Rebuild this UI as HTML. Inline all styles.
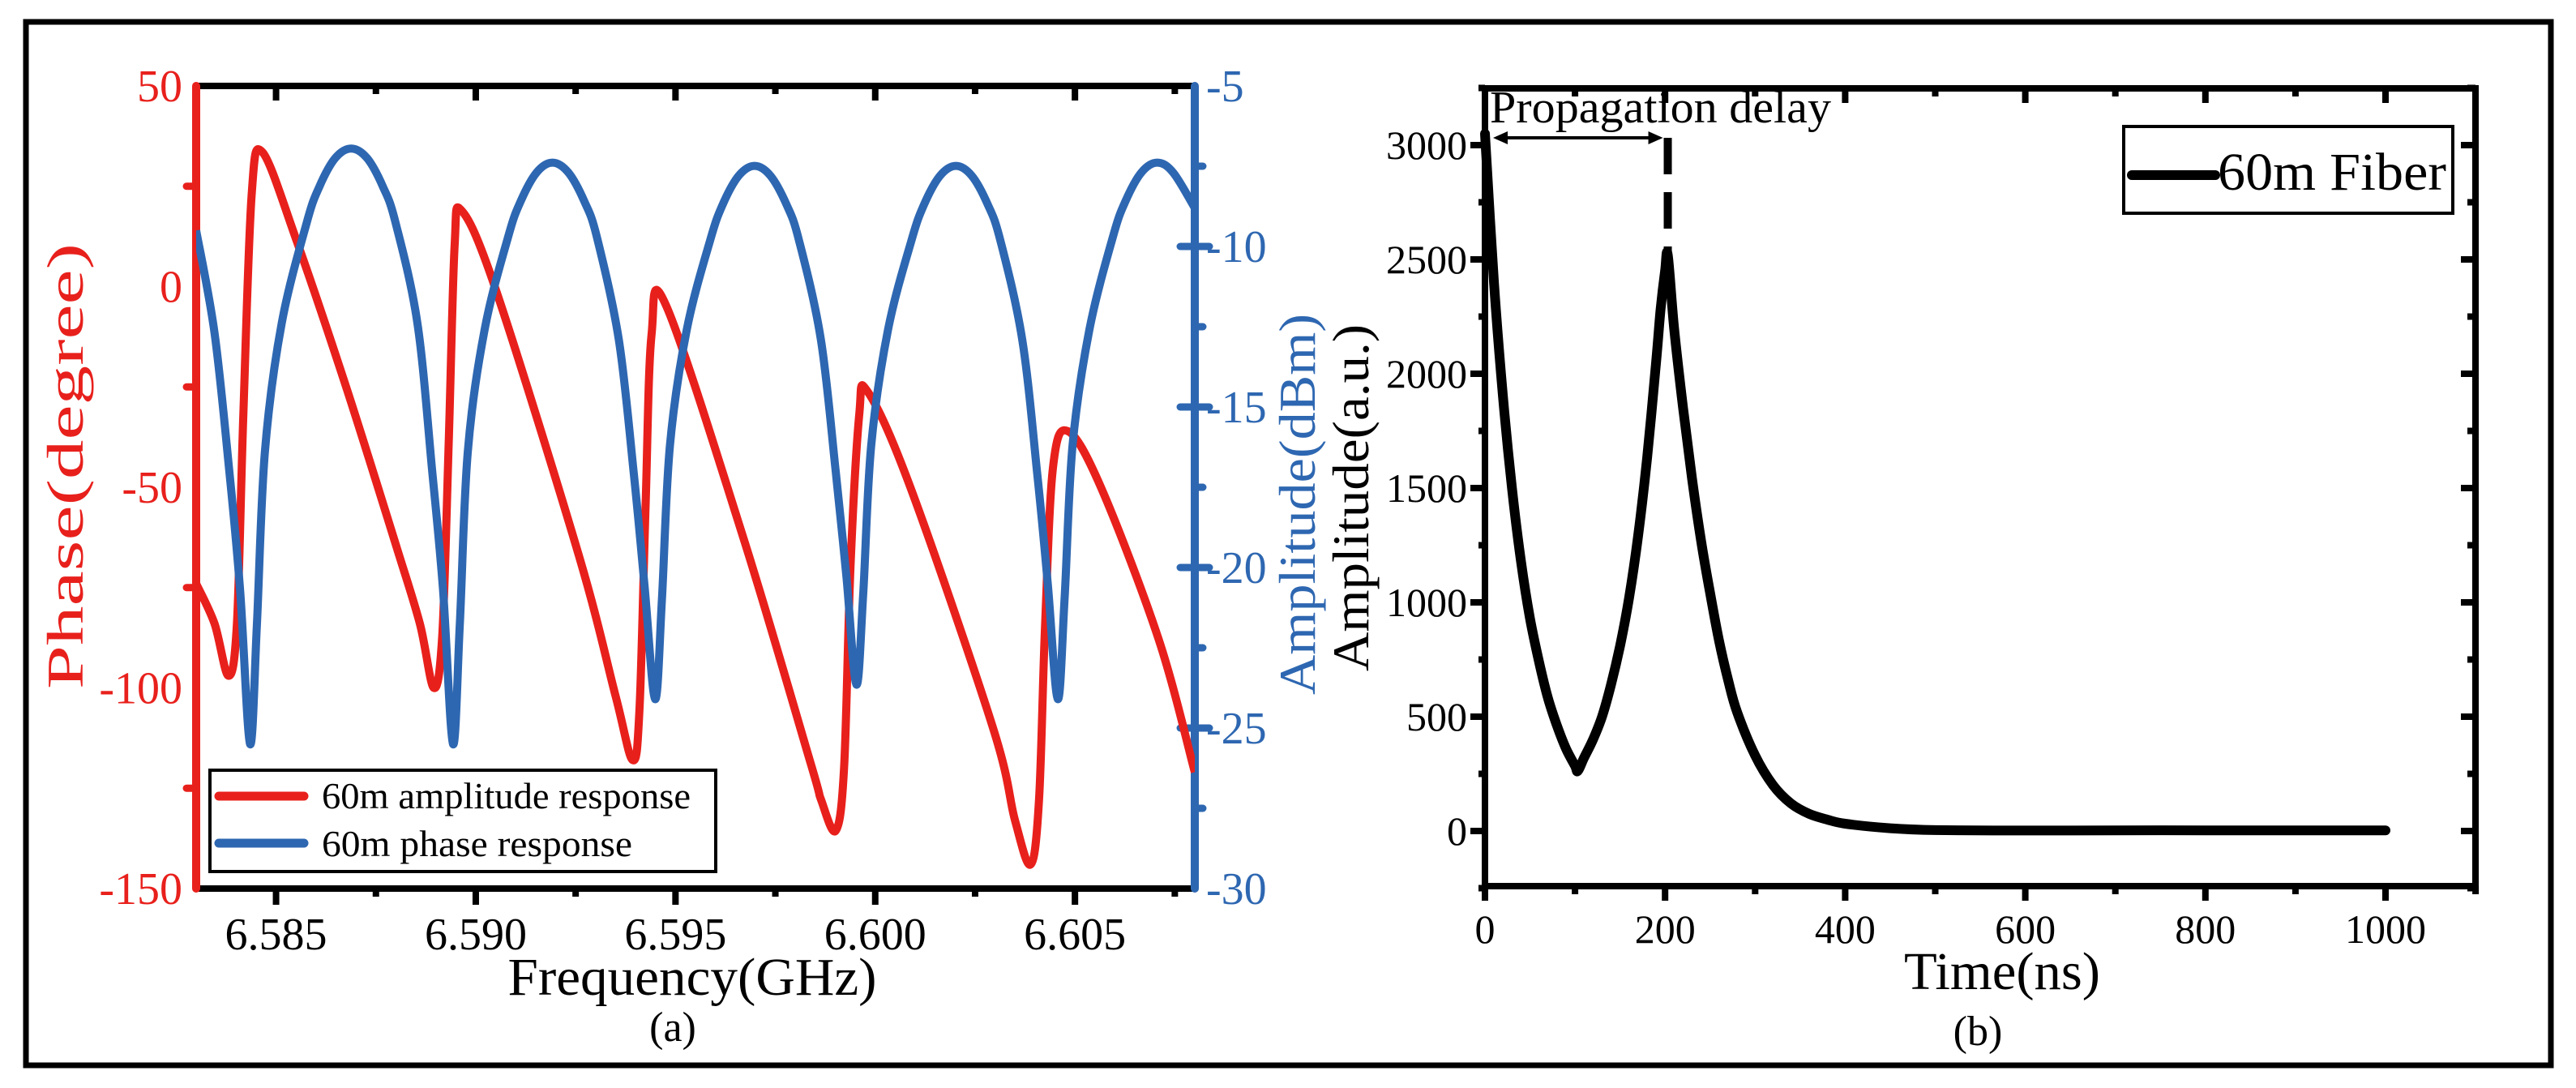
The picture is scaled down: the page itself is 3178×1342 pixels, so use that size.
<!DOCTYPE html>
<html><head><meta charset="utf-8"><style>
html,body{margin:0;padding:0;background:#fff}
svg{display:block;font-family:"Liberation Serif",serif}
</style></head><body>
<svg id="fig" width="3178" height="1342" viewBox="0 0 3178 1342" xmlns="http://www.w3.org/2000/svg">
<rect x="32" y="27" width="3115" height="1287" fill="none" stroke="#000" stroke-width="7"/>
<g id="pa"></g>
<g id="pb"></g>
</svg>
<script>
// ---------- Panel (a) data ----------
const freqTicks = [6.585, 6.590, 6.595, 6.600, 6.605];
const freqTickLabels = ["6.585", "6.590", "6.595", "6.600", "6.605"];
const phaseTicks = [50, 0, -50, -100, -150];
const ampTicks = [-5, -10, -15, -20, -25, -30];
const redFreq = [6.583,6.58346,6.58381,6.58402,6.58418,6.58439,6.58466,6.58553,6.58677,6.58802,6.5886,6.58895,6.58916,6.58932,6.58947,6.58964,6.59051,6.59258,6.5935,6.59393,6.5941,6.59425,6.5944,6.59476,6.59673,6.59839,6.59865,6.59901,6.59922,6.59938,6.5996,6.5998,6.60088,6.60295,6.6035,6.60389,6.6041,6.60425,6.60445,6.60482,6.60565,6.6071,6.608];
const redPhase = [-74,-84,-97,-84,-32,23,33.5,11,-25.5,-65,-84,-100,-87,-40,10,19,-1,-67,-102,-118,-105,-55,-12,-4.6,-63.6,-119,-128,-135.6,-120,-70,-32,-26,-50,-110,-133,-144,-128,-85,-45,-36,-50,-88,-121];
const blueFreq = [6.583,6.58346,6.58383,6.5841,6.58435,6.58452,6.58472,6.58514,6.58577,6.58608,6.58648,6.58688,6.58728,6.58768,6.58799,6.58854,6.58891,6.58918,6.58943,6.5896,6.5898,6.59022,6.59081,6.59112,6.59152,6.59192,6.59232,6.59272,6.59303,6.59358,6.59395,6.59422,6.59449,6.59466,6.59486,6.59528,6.59587,6.59618,6.59658,6.59698,6.59738,6.59778,6.59809,6.59864,6.59901,6.59928,6.59953,6.5997,6.5999,6.60032,6.60091,6.60122,6.60162,6.60202,6.60242,6.60282,6.60313,6.60368,6.60405,6.60432,6.60457,6.60474,6.60494,6.60536,6.60595,6.60626,6.60666,6.60706,6.60746,6.608];
const blueAmp = [-9.5,-12.7,-17.0,-20.7,-25.5,-21.8,-16.4,-12.4,-9.25,-8.15,-7.25,-6.95,-7.25,-8.15,-9.25,-12.4,-17.0,-20.7,-25.5,-21.8,-16.4,-12.6,-9.7,-8.6,-7.7,-7.39,-7.7,-8.6,-9.7,-12.9,-17.0,-20.5,-24.1,-21.0,-16.2,-12.6,-9.8,-8.7,-7.8,-7.49,-7.8,-8.7,-9.8,-12.9,-17.0,-20.3,-23.65,-20.8,-16.2,-12.6,-9.8,-8.7,-7.8,-7.49,-7.8,-8.7,-9.8,-12.9,-17.0,-20.5,-24.1,-21.0,-16.2,-12.6,-9.7,-8.6,-7.7,-7.39,-7.7,-8.8];
// ---------- Panel (b) data ----------
const timeTicks = [0,200,400,600,800,1000];
const countTicks = [0,500,1000,1500,2000,2500,3000];
const times = [0,10,20,30,40,50,60,70,80,90,100,103,110,120,130,140,150,160,170,180,190,195,200,203,210,220,230,240,250,260,270,280,300,320,340,360,380,400,450,500,600,700,800,900,1000];
const counts = [3050,2400,1900,1500,1180,930,740,580,460,360,285,262,320,400,500,640,810,1020,1290,1630,2050,2280,2450,2520,2200,1850,1540,1270,1040,830,660,520,330,200,120,75,50,32,12,4,2,3,3,3,3];
const delayTime = 203;

const NS="http://www.w3.org/2000/svg";
function mk(parent,tag,attrs,text){const e=document.createElementNS(NS,tag);for(const k in attrs)e.setAttribute(k,attrs[k]);if(text!==undefined)e.textContent=text;parent.appendChild(e);return e;}
function smoothPath(xs,ys){let d="M"+xs[0].toFixed(1)+","+ys[0].toFixed(1);for(let i=0;i<xs.length-1;i++){const x0=xs[Math.max(0,i-1)],y0=ys[Math.max(0,i-1)],x1=xs[i],y1=ys[i],x2=xs[i+1],y2=ys[i+1],x3=xs[Math.min(xs.length-1,i+2)],y3=ys[Math.min(xs.length-1,i+2)];d+=" C"+(x1+(x2-x0)/6).toFixed(1)+","+(y1+(y2-y0)/6).toFixed(1)+" "+(x2-(x3-x1)/6).toFixed(1)+","+(y2-(y3-y1)/6).toFixed(1)+" "+x2.toFixed(1)+","+y2.toFixed(1);}return d;}
const RED="#e8201c",BLUE="#2e67b1";

// ---- Panel a ----
const pa=document.getElementById('pa');
const aL=242,aR=1474,aT=106,aB=1096,fMin=6.583,fMax=6.608;
const fx=f=>aL+(f-fMin)/(fMax-fMin)*(aR-aL);
const py=p=>aT+(50-p)/200*(aB-aT);
const ay=a=>aT+(-5-a)/25*(aB-aT);
mk(pa,'clipPath',{id:'clipA'});
mk(document.getElementById('clipA'),'rect',{x:aL,y:aT-10,width:aR-aL,height:aB-aT+20});
let e;
e=mk(pa,'line',{x1:aL,y1:aT,x2:aR,y2:aT,stroke:'#000','stroke-width':8});


e=mk(pa,'line',{x1:aL,y1:aB,x2:aR,y2:aB,stroke:'#000','stroke-width':8});


for(let f=6.5825;f<=6.6081;f+=0.0025){const x=fx(f);if(x<aL+5||x>aR-5)continue;const major=Math.abs(Math.round(f*1000)/1000-f)<1e-6&&Math.round(f*1000)%5===0;
 e=mk(pa,'line',{x1:x,y1:aB,x2:x,y2:aB+(major?20:10),stroke:'#000','stroke-width':8});
 
 
 e=mk(pa,'line',{x1:x,y1:aT,x2:x,y2:aT+(major?18:10),stroke:'#000','stroke-width':8});
 
 }
freqTicks.forEach((f,i)=>{e=mk(pa,'text',{x:fx(f),y:1171,'font-size':56,'text-anchor':'middle',fill:'#000'},freqTickLabels[i]);
 
 });
e=mk(pa,'line',{x1:aL,y1:aT,x2:aL,y2:aB,stroke:RED,'stroke-width':10,'stroke-linecap':'round'});


for(let p=25;p>-150;p-=50){e=mk(pa,'line',{x1:aL,y1:py(p),x2:aL-12,y2:py(p),stroke:RED,'stroke-width':9,'stroke-linecap':'round'});
 
 }
phaseTicks.forEach(p=>{e=mk(pa,'text',{x:225,y:py(p)+19,'font-size':56,'text-anchor':'end',fill:RED},String(p));
 
 });
e=mk(pa,'line',{x1:aR,y1:aT,x2:aR,y2:aB,stroke:BLUE,'stroke-width':10,'stroke-linecap':'round'});


for(let a=-7.5;a>-30;a-=2.5){const major=Math.abs(a%5)<1e-6;e=mk(pa,'line',{x1:major?aR-18:aR,y1:ay(a),x2:major?aR+18:aR+10,y2:ay(a),stroke:BLUE,'stroke-width':9,'stroke-linecap':'round'});
 
 }
ampTicks.forEach(a=>{e=mk(pa,'text',{x:1488,y:ay(a)+19,'font-size':56,'text-anchor':'start',fill:BLUE},String(a));
 
 });
e=mk(pa,'path',{d:smoothPath(redFreq.map(fx),redPhase.map(py)),fill:'none',stroke:RED,'stroke-width':10,'stroke-linejoin':'round','clip-path':'url(#clipA)'});


e=mk(pa,'path',{d:smoothPath(blueFreq.map(fx),blueAmp.map(ay)),fill:'none',stroke:BLUE,'stroke-width':10,'stroke-linejoin':'round','clip-path':'url(#clipA)'});


const lg=mk(pa,'g',{});


mk(lg,'rect',{x:259,y:950,width:624,height:125,fill:'#fff',stroke:'#000','stroke-width':4});
e=mk(lg,'line',{x1:270,y1:982,x2:375,y2:982,stroke:RED,'stroke-width':11,'stroke-linecap':'round'});


e=mk(lg,'text',{x:397,y:997,'font-size':46,textLength:455,lengthAdjust:'spacingAndGlyphs'},'60m amplitude response');


e=mk(lg,'line',{x1:270,y1:1040,x2:375,y2:1040,stroke:BLUE,'stroke-width':11,'stroke-linecap':'round'});


e=mk(lg,'text',{x:397,y:1056,'font-size':46,textLength:383,lengthAdjust:'spacingAndGlyphs'},'60m phase response');


e=mk(pa,'text',{x:0,y:0,'font-size':64,fill:RED,'text-anchor':'middle',textLength:550,lengthAdjust:'spacingAndGlyphs',transform:'translate(102,575) rotate(-90)'},'Phase(degree)');


e=mk(pa,'text',{x:854,y:1227,'font-size':66,'text-anchor':'middle',textLength:455,lengthAdjust:'spacingAndGlyphs'},'Frequency(GHz)');


e=mk(pa,'text',{x:830,y:1284,'font-size':52,'text-anchor':'middle'},'(a)');


e=mk(pa,'text',{x:0,y:0,'font-size':64,fill:BLUE,'text-anchor':'middle',textLength:470,lengthAdjust:'spacingAndGlyphs',transform:'translate(1622,622) rotate(-90)'},'Amplitude(dBm)');



// ---- Panel b ----
const pb=document.getElementById('pb');
const bL=1832,bR=3054,bT=109,bB=1093;
const tx=t=>bL+t*(2943-bL)/1000;
const cy=c=>1025-c*(1025-179)/3000;
e=mk(pb,'rect',{x:bL,y:bT,width:bR-bL,height:bB-bT,fill:'none',stroke:'#000','stroke-width':8});


for(let t=0;t<=1100;t+=100){const major=t%200===0;const x=tx(t);
 e=mk(pb,'line',{x1:x,y1:bB,x2:x,y2:bB+(major?18:10),stroke:'#000','stroke-width':8});
 
 
 if(t>0&&t<1100){e=mk(pb,'line',{x1:x,y1:bT,x2:x,y2:bT+(major?18:10),stroke:'#000','stroke-width':8});
 
 }}
timeTicks.forEach(t=>{e=mk(pb,'text',{x:tx(t),y:1163,'font-size':50,'text-anchor':'middle'},String(t));
 
 });
for(let c=-250;c<=3250;c+=250){const major=c%500===0;const y=cy(c);
 e=mk(pb,'line',{x1:bL,y1:y,x2:bL-(major?18:8),y2:y,stroke:'#000','stroke-width':8});
 
 
 e=mk(pb,'line',{x1:bR,y1:y,x2:bR-(major?18:10),y2:y,stroke:'#000','stroke-width':8});
 
 }
countTicks.forEach(c=>{e=mk(pb,'text',{x:1810,y:cy(c)+17,'font-size':50,'text-anchor':'end'},String(c));
 
 });
e=mk(pb,'path',{d:smoothPath(times.map(tx),counts.map(cy)),fill:'none',stroke:'#000','stroke-width':12,'stroke-linejoin':'round','stroke-linecap':'round'});


const dx=tx(delayTime);
e=mk(pb,'line',{x1:dx,y1:170,x2:dx,y2:cy(2520),stroke:'#000','stroke-width':10,'stroke-dasharray':'45,22'});


e=mk(pb,'line',{x1:bL+14,y1:170,x2:dx-10,y2:170,stroke:'#000','stroke-width':4});


mk(pb,'path',{d:`M${bL+10},170 l18,-8 v16 z M${dx-6},170 l-18,-8 v16 z`,fill:'#000'});
e=mk(pb,'text',{x:1838,y:151,'font-size':56,textLength:421,lengthAdjust:'spacingAndGlyphs'},'Propagation delay');


const lb=mk(pb,'g',{});


mk(lb,'rect',{x:2620,y:156,width:406,height:107,fill:'#fff',stroke:'#000','stroke-width':4});
e=mk(lb,'line',{x1:2630,y1:216,x2:2733,y2:216,stroke:'#000','stroke-width':12,'stroke-linecap':'round'});


e=mk(lb,'text',{x:2736,y:234,'font-size':66,textLength:282,lengthAdjust:'spacingAndGlyphs'},'60m Fiber');


e=mk(pb,'text',{x:0,y:0,'font-size':64,'text-anchor':'middle',textLength:428,lengthAdjust:'spacingAndGlyphs',transform:'translate(1688,614) rotate(-90)'},'Amplitude(a.u.)');


e=mk(pb,'text',{x:2470,y:1220,'font-size':66,'text-anchor':'middle',textLength:242,lengthAdjust:'spacingAndGlyphs'},'Time(ns)');


e=mk(pb,'text',{x:2440,y:1289,'font-size':52,'text-anchor':'middle'},'(b)');


</script>
</body></html>
